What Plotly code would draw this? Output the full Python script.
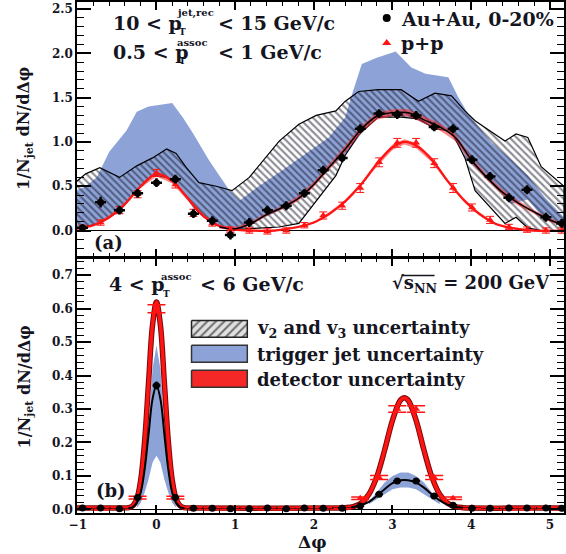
import plotly.graph_objects as go

# ---------------- data ----------------
# bin centres (both panels)
xb = [-0.94, -0.71, -0.47, -0.24, 0.00, 0.24, 0.47, 0.71, 0.94, 1.18, 1.41, 1.65, 1.88, 2.12,
      2.36, 2.59, 2.83, 3.06, 3.30, 3.53, 3.77, 4.01, 4.24, 4.48, 4.71, 4.95, 5.15]

# top panel (a): 0.5 < pT assoc < 1
aa_top = [0.03, 0.32, 0.23, 0.42, 0.54, 0.58, 0.19, 0.11, -0.05, 0.09, 0.23, 0.28, 0.42, 0.68,
          0.82, 1.15, 1.32, 1.31, 1.30, 1.17, 1.15, 0.80, 0.61, 0.37, 0.46, 0.15, 0.08]
aa_top_err = [0.04, 0.06, 0.05, 0.05, 0.05, 0.05, 0.05, 0.05, 0.05, 0.05, 0.05, 0.05, 0.05, 0.05,
              0.05, 0.05, 0.05, 0.05, 0.05, 0.05, 0.05, 0.05, 0.05, 0.05, 0.05, 0.05, 0.05]
pp_top = [0.03, 0.09, 0.23, 0.41, 0.65, 0.52, 0.20, 0.08, 0.01, 0.00, -0.01, 0.00, 0.06, 0.17,
          0.28, 0.48, 0.77, 0.99, 0.99, 0.76, 0.48, 0.26, 0.12, 0.04, 0.01, 0.00, 0.00]
pp_top_err = [0.03, 0.03, 0.04, 0.04, 0.04, 0.04, 0.04, 0.03, 0.03, 0.03, 0.03, 0.03, 0.03, 0.04,
              0.04, 0.05, 0.05, 0.05, 0.05, 0.05, 0.05, 0.04, 0.04, 0.03, 0.03, 0.03, 0.03]

cx_top = [-1.02, -0.8, -0.6, -0.4, -0.2, 0.0, 0.2, 0.4, 0.6, 0.8, 1.0, 1.2, 1.5, 1.8, 2.0, 2.2,
          2.4, 2.6, 2.8, 3.0, 3.15, 3.3, 3.5, 3.7, 3.9, 4.1, 4.3, 4.5, 4.8, 5.18]
pp_curve_top = [0.02, 0.06, 0.15, 0.30, 0.50, 0.64, 0.56, 0.36, 0.16, 0.05, 0.01, 0.0, 0.0, 0.04,
                0.09, 0.19, 0.33, 0.52, 0.75, 0.94, 1.00, 0.96, 0.80, 0.56, 0.35, 0.19, 0.08, 0.03, 0.0, 0.0]
pp_det_top = [0.01, 0.01, 0.02, 0.02, 0.02, 0.03, 0.03, 0.02, 0.02, 0.01, 0.01, 0.01, 0.01, 0.01,
              0.01, 0.02, 0.02, 0.02, 0.03, 0.03, 0.03, 0.03, 0.03, 0.02, 0.02, 0.02, 0.01, 0.01, 0.01, 0.01]

ax_top = [0.8, 1.0, 1.2, 1.4, 1.6, 1.8, 2.0, 2.2, 2.4, 2.6, 2.8, 3.0, 3.2, 3.4, 3.6, 3.8, 4.0,
          4.2, 4.4, 4.6, 4.8, 5.0, 5.18]
aa_curve_top = [0.04, 0.02, 0.08, 0.18, 0.26, 0.36, 0.52, 0.72, 0.92, 1.14, 1.29, 1.33, 1.33,
                1.25, 1.17, 1.05, 0.80, 0.60, 0.43, 0.31, 0.21, 0.12, 0.06]
aa_det_top = [0.02, 0.02, 0.02, 0.02, 0.02, 0.03, 0.03, 0.03, 0.04, 0.04, 0.04, 0.04, 0.04,
              0.04, 0.04, 0.04, 0.03, 0.03, 0.03, 0.03, 0.02, 0.02, 0.02]

# v2 and v3 uncertainty band (top)
hx = [-1.02, -0.9, -0.72, -0.47, -0.25, -0.05, 0.13, 0.25, 0.38, 0.54, 0.76, 0.96, 1.18, 1.39,
      1.56, 1.81, 2.03, 2.28, 2.40, 2.57, 2.82, 3.11, 3.33, 3.54, 3.75, 3.92, 4.05, 4.18, 4.43,
      4.57, 4.72, 4.89, 5.18]
h_up = [0.55, 0.64, 0.71, 0.60, 0.73, 0.82, 0.92, 0.87, 0.71, 0.54, 0.50, 0.45, 0.60, 0.82,
        1.01, 1.20, 1.30, 1.35, 1.46, 1.57, 1.59, 1.59, 1.46, 1.55, 1.52, 1.35, 1.24, 1.16, 1.01,
        1.09, 1.05, 0.72, 0.50]
h_lo = [0.02, 0.04, 0.08, 0.22, 0.45, 0.62, 0.60, 0.52, 0.38, 0.20, 0.06, 0.01, 0.02, 0.03,
        0.04, 0.08, 0.34, 0.62, 0.85, 1.08, 1.28, 1.28, 1.26, 1.15, 1.12, 0.82, 0.45, 0.32, 0.08,
        0.15, 0.03, 0.0, 0.0]

# trigger jet uncertainty band (top)
bx = [-1.02, -0.9, -0.76, -0.6, -0.38, -0.25, -0.1, 0.08, 0.2, 0.34, 0.47, 0.67, 0.85, 0.93,
      1.06, 1.3, 1.6, 1.9, 2.19, 2.4, 2.49, 2.61, 2.8, 3.04, 3.24, 3.42, 3.71, 3.84, 3.96, 4.25,
      4.51, 4.72, 4.94, 5.18]
b_up = [0.45, 0.50, 0.60, 0.89, 1.13, 1.34, 1.40, 1.42, 1.44, 1.27, 1.09, 0.79, 0.56, 0.45,
        0.34, 0.50, 0.68, 0.87, 1.05, 1.28, 1.55, 1.88, 1.95, 2.02, 1.84, 1.77, 1.73, 1.50, 1.32,
        1.00, 0.80, 0.62, 0.37, 0.15]
b_lo = [0.02, 0.04, 0.08, 0.15, 0.33, 0.45, 0.60, 0.62, 0.57, 0.42, 0.25, 0.10, 0.04, 0.02,
        0.00, 0.12, 0.24, 0.40, 0.70, 0.85, 0.95, 1.10, 1.28, 1.29, 1.28, 1.20, 1.12, 0.95, 0.80,
        0.55, 0.30, 0.35, 0.12, 0.05]

# bottom panel (b): 4 < pT assoc < 6
aa_bot = [0.004, 0.004, 0.002, 0.035, 0.37, 0.035, 0.003, 0.003, 0.002, 0.002, 0.004, 0.002,
          0.004, 0.003, 0.003, 0.010, 0.045, 0.085, 0.085, 0.040, 0.012, 0.003, 0.003, 0.004,
          0.004, 0.004, 0.003]
aa_bot_err = [0.004, 0.004, 0.004, 0.006, 0.012, 0.006, 0.004, 0.004, 0.004, 0.004, 0.004, 0.004,
              0.004, 0.004, 0.004, 0.005, 0.006, 0.007, 0.007, 0.006, 0.005, 0.004, 0.004, 0.004,
              0.004, 0.004, 0.004]
pp_bot = [0.003, 0.002, 0.003, 0.035, 0.60, 0.035, 0.003, 0.002, 0.002, 0.003, 0.002, 0.002,
          0.003, 0.003, 0.005, 0.033, 0.095, 0.30, 0.30, 0.095, 0.033, 0.005, 0.003, 0.002, 0.002,
          0.003, 0.002]
pp_bot_err = [0.003, 0.003, 0.003, 0.004, 0.012, 0.004, 0.003, 0.003, 0.003, 0.003, 0.003, 0.003,
              0.003, 0.003, 0.003, 0.004, 0.006, 0.01, 0.01, 0.006, 0.004, 0.003, 0.003, 0.003,
              0.003, 0.003, 0.003]

cx_bot = [-1.02, -0.5, -0.35, -0.3, -0.25, -0.2, -0.15, -0.1, -0.05, 0.0, 0.05, 0.1, 0.15, 0.2,
          0.25, 0.3, 0.35, 0.5, 2.3, 2.4, 2.5, 2.6, 2.7, 2.8, 2.9, 3.0, 3.1, 3.15, 3.2, 3.3, 3.4,
          3.5, 3.6, 3.7, 3.8, 3.9, 4.0, 5.18]
pp_curve_bot = [0.004, 0.004, 0.005, 0.011, 0.031, 0.088, 0.205, 0.38, 0.551, 0.62, 0.551, 0.38,
                0.205, 0.088, 0.031, 0.011, 0.005, 0.004, 0.004, 0.005, 0.008, 0.018, 0.045, 0.097,
                0.177, 0.266, 0.326, 0.334, 0.326, 0.266, 0.177, 0.097, 0.045, 0.018, 0.008, 0.005,
                0.004, 0.004]
aa_curve_bot = [0.004, 0.004, 0.004, 0.007, 0.02, 0.05, 0.12, 0.225, 0.33, 0.37, 0.33, 0.225,
                0.12, 0.05, 0.02, 0.007, 0.004, 0.004, 0.004, 0.005, 0.007, 0.012, 0.022, 0.04,
                0.06, 0.078, 0.087, 0.088, 0.087, 0.08, 0.065, 0.045, 0.027, 0.014, 0.007, 0.005,
                0.004, 0.004]

bbx_near = [-0.25, -0.2, -0.15, -0.1, -0.05, 0.0, 0.05, 0.1, 0.15, 0.2, 0.25]
bb_up_near = [0.01, 0.05, 0.12, 0.25, 0.42, 0.49, 0.42, 0.25, 0.12, 0.05, 0.01]
bb_lo_near = [0.005, 0.02, 0.05, 0.09, 0.14, 0.16, 0.14, 0.09, 0.05, 0.02, 0.005]
bbx_away = [2.7, 2.8, 2.9, 3.0, 3.1, 3.2, 3.3, 3.4, 3.5, 3.6]
bb_up_away = [0.025, 0.05, 0.08, 0.10, 0.11, 0.11, 0.10, 0.08, 0.05, 0.025]
bb_lo_away = [0.015, 0.03, 0.045, 0.06, 0.065, 0.065, 0.06, 0.045, 0.03, 0.015]

xticks = [-1, 0, 1, 2, 3, 4, 5]

# ---------------- style ----------------
BLUE = 'rgb(141,163,216)'
RED = 'rgb(255,20,20)'
REDBAND = 'rgba(255,40,40,0.55)'
SERIF = 'DejaVu Serif'
TXT = '#15151f'

fig = go.Figure()


def band(x, up, lo, xa, ya, **kw):
    fig.add_trace(go.Scatter(x=list(x) + list(x)[::-1], y=list(up) + list(lo)[::-1],
                             xaxis=xa, yaxis=ya, mode='lines', fill='toself',
                             hoverinfo='skip', showlegend=False, **kw))


def around(y, e, sign):
    return [a + sign * b for a, b in zip(y, e)]


# ---- top panel (x2/y2) ----
band(bx, b_up, b_lo, 'x2', 'y2', fillcolor=BLUE, line=dict(width=0, color=BLUE))
band(hx, h_up, h_lo, 'x2', 'y2', fillcolor='rgba(255,255,255,0)',
     line=dict(width=1.2, color='black'),
     fillpattern=dict(shape='\\', fgcolor='#1a1a2a', bgcolor='rgba(255,255,255,0)',
                      size=5, solidity=0.42))
band(cx_top, around(pp_curve_top, pp_det_top, 1), around(pp_curve_top, pp_det_top, -1), 'x2', 'y2',
     fillcolor=REDBAND, line=dict(width=0, color=RED))
band(ax_top, around(aa_curve_top, aa_det_top, 1), around(aa_curve_top, aa_det_top, -1), 'x2', 'y2',
     fillcolor=REDBAND, line=dict(width=0, color=RED))
fig.add_trace(go.Scatter(x=cx_top, y=pp_curve_top, xaxis='x2', yaxis='y2', mode='lines',
                         line=dict(color=RED, width=2.2, shape='spline'), showlegend=False))
fig.add_trace(go.Scatter(x=ax_top, y=aa_curve_top, xaxis='x2', yaxis='y2', mode='lines',
                         line=dict(color='black', width=1.5, shape='spline'), showlegend=False))
fig.add_trace(go.Scatter(x=xb, y=pp_top, xaxis='x2', yaxis='y2', mode='markers',
                         marker=dict(symbol='triangle-up', size=7, color=RED),
                         error_y=dict(type='data', array=pp_top_err, color=RED, thickness=1, width=4),
                         showlegend=False))
fig.add_trace(go.Scatter(x=xb, y=aa_top, xaxis='x2', yaxis='y2', mode='markers',
                         marker=dict(symbol='circle', size=7, color='black'),
                         error_y=dict(type='data', array=aa_top_err, color='black', thickness=2.5, width=0),
                         error_x=dict(type='constant', value=0.07, color='black', thickness=2.5, width=0),
                         showlegend=False))

# ---- bottom panel (x/y) ----
band(bbx_near, bb_up_near, bb_lo_near, 'x', 'y', fillcolor=BLUE, line=dict(width=0, color=BLUE))
band(bbx_away, bb_up_away, bb_lo_away, 'x', 'y', fillcolor=BLUE, line=dict(width=0, color=BLUE))
fig.add_trace(go.Scatter(x=cx_bot, y=pp_curve_bot, xaxis='x', yaxis='y', mode='lines',
                         line=dict(color='rgb(120,10,10)', width=5.5, shape='spline'), showlegend=False))
fig.add_trace(go.Scatter(x=cx_bot, y=pp_curve_bot, xaxis='x', yaxis='y', mode='lines',
                         line=dict(color=RED, width=3.5, shape='spline'), showlegend=False))
fig.add_trace(go.Scatter(x=cx_bot, y=aa_curve_bot, xaxis='x', yaxis='y', mode='lines',
                         line=dict(color='black', width=2, shape='spline'), showlegend=False))
fig.add_trace(go.Scatter(x=xb, y=pp_bot, xaxis='x', yaxis='y', mode='markers',
                         marker=dict(symbol='triangle-up', size=7, color=RED),
                         error_y=dict(type='data', array=pp_bot_err, color=RED, thickness=1.5, width=9),
                         showlegend=False))
fig.add_trace(go.Scatter(x=xb, y=aa_bot, xaxis='x', yaxis='y', mode='markers',
                         marker=dict(symbol='circle', size=7, color='black'),
                         error_y=dict(type='data', array=aa_bot_err, color='black', thickness=2, width=0),
                         error_x=dict(type='constant', value=0.05, color='black', thickness=2, width=0),
                         showlegend=False))

# ---- overlay (pixel-like) axes for legend glyphs ----
fig.add_trace(go.Scatter(x=[388], y=[17], xaxis='x3', yaxis='y3', mode='markers',
                         marker=dict(symbol='circle', size=8, color='black'), showlegend=False))
fig.add_trace(go.Scatter(x=[388], y=[42], xaxis='x3', yaxis='y3', mode='markers',
                         marker=dict(symbol='triangle-up', size=8, color=RED), showlegend=False))
fig.add_trace(go.Scatter(x=[192, 248, 248, 192, 192], y=[320, 320, 337, 337, 320], xaxis='x3', yaxis='y3',
                         mode='lines', fill='toself', fillcolor='rgb(215,215,215)',
                         fillpattern=dict(shape='/', fgcolor='black', bgcolor='rgb(225,225,225)',
                                          size=6, solidity=0.35),
                         line=dict(color='#222', width=1.5), showlegend=False))
fig.add_trace(go.Scatter(x=[192, 248, 248, 192, 192], y=[345, 345, 362, 362, 345], xaxis='x3', yaxis='y3',
                         mode='lines', fill='toself', fillcolor=BLUE,
                         line=dict(color='#333', width=1.5), showlegend=False))
fig.add_trace(go.Scatter(x=[192, 248, 248, 192, 192], y=[370, 370, 387, 387, 370], xaxis='x3', yaxis='y3',
                         mode='lines', fill='toself', fillcolor='rgb(245,40,40)',
                         line=dict(color='#333', width=1.5), showlegend=False))

# ---------------- annotations ----------------
ann = []


def txt(x, y, s, size=18, **kw):
    d = dict(x=x, y=y, xref='x3', yref='y3', text=s, showarrow=False, xanchor='left',
             yanchor='middle', font=dict(family=SERIF, size=size, color=TXT, weight='bold'))
    d.update(kw)
    ann.append(d)


def ptxt(px, py, s, size=16, **kw):
    # position given in page pixels, converted to paper fractions
    d = dict(x=(px - 77) / 489.0, y=(513 - py) / 512.0, xref='paper', yref='paper', text=s,
             showarrow=False, xanchor='center', yanchor='middle',
             font=dict(family=SERIF, size=size, color=TXT, weight='bold'))
    d.update(kw)
    ann.append(d)


txt(111, 22, '10 < p', size=19)
txt(175, 12, 'jet,rec', size=10)
txt(177, 31, 'T', size=9)
txt(217, 22, '< 15 GeV/c', size=19)
txt(111, 51, '0.5 < p', size=19)
txt(175, 42, 'assoc', size=10)
txt(177, 60, 'T', size=9)
txt(217, 51, '< 1 GeV/c', size=19)
txt(400, 18, 'Au+Au, 0-20%', size=19)
txt(400, 42, 'p+p', size=19)
txt(92, 242, '(a)', size=18)

txt(107, 284, '4 < p', size=19)
txt(159, 276, 'assoc', size=10)
txt(161, 294, 'T', size=9)
txt(198, 284, '< 6 GeV/c', size=19)
txt(391, 284, '√s<sub>NN</sub> = 200 GeV', size=18)
txt(256, 329, 'v<sub>2</sub> and v<sub>3</sub> uncertainty')
txt(256, 354, 'trigger jet uncertainty')
txt(256, 379, 'detector uncertainty')
txt(94, 490, '(b)', size=18)

ptxt(25, 128, '1/N<sub>jet</sub> dN/dΔφ', textangle=-90)
ptxt(25, 387, '1/N<sub>jet</sub> dN/dΔφ', textangle=-90)
ptxt(313, 542, 'Δφ', size=17)

tickfont = dict(family=SERIF, size=12, color=TXT, weight='bold')
common_x = dict(range=[-1.01, 5.18], tickvals=xticks, ticks='inside', ticklen=8, tickwidth=1.5,
                showline=True, linecolor='black', linewidth=1.5, mirror='ticks', showgrid=False,
                zeroline=False, tickcolor='black',
                minor=dict(dtick=0.2, ticks='inside', ticklen=4, tickcolor='black', tickwidth=1))

fig.update_layout(
    width=566, height=554,
    margin=dict(l=77, r=0, t=1, b=41),
    paper_bgcolor='white', plot_bgcolor='rgba(0,0,0,0)',
    showlegend=False,
    xaxis=dict(domain=[0, 1], anchor='y', tickfont=tickfont, **common_x),
    xaxis2=dict(domain=[0, 1], anchor='y2', matches='x', showticklabels=False, **common_x),
    yaxis=dict(domain=[0, 0.498], anchor='x', range=[-0.011, 0.75], dtick=0.1, tick0=0,
               tickformat='.1f', ticks='inside', ticklen=14, tickwidth=1.5, tickcolor='black',
               showline=True, linecolor='black', linewidth=1.5, mirror='ticks', showgrid=False,
               zeroline=True, zerolinecolor='black', zerolinewidth=1, tickfont=tickfont,
               minor=dict(dtick=0.02, ticks='inside', ticklen=7, tickcolor='black', tickwidth=1)),
    yaxis2=dict(domain=[0.502, 1], anchor='x2', range=[-0.293, 2.58], dtick=0.5, tick0=0,
                tickformat='.1f', ticks='inside', ticklen=14, tickwidth=1.5, tickcolor='black',
                showline=True, linecolor='black', linewidth=1.5, mirror='ticks', showgrid=False,
                zeroline=True, zerolinecolor='black', zerolinewidth=1, tickfont=tickfont,
                minor=dict(dtick=0.1, ticks='inside', ticklen=7, tickcolor='black', tickwidth=1)),
    xaxis3=dict(domain=[0, 1], anchor='y3', range=[77, 566], visible=False),
    yaxis3=dict(domain=[0, 1], anchor='x3', range=[513, 1], visible=False),
    annotations=ann,
    shapes=[dict(type='line', xref='x3', yref='y3', x0=403, x1=436, y0=275, y1=275,
                 line=dict(color=TXT, width=1.5))],
)

fig.write_html('out.html')
